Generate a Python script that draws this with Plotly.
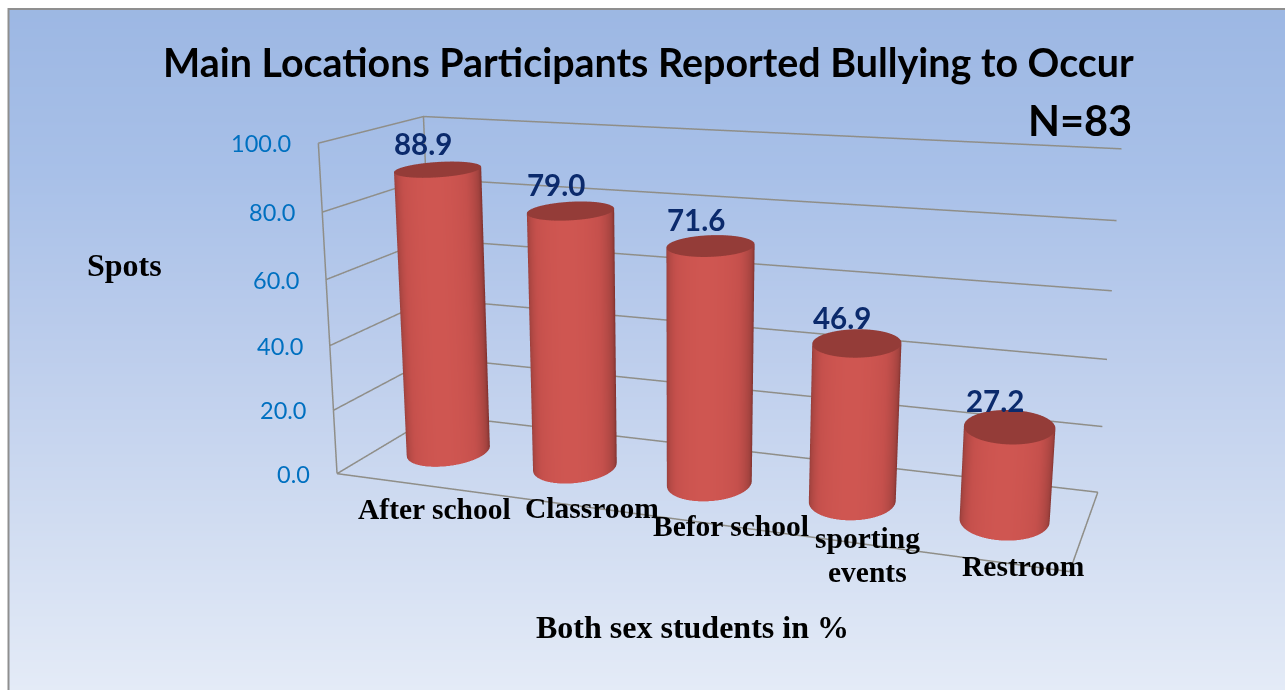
import numpy as np
import plotly.graph_objects as go

# Chart data
CATEGORIES = ["After school", "Classroom", "Befor school", "sporting<br>events", "Restroom"]
VALUES = [88.9, 79.0, 71.6, 46.9, 27.2]
TICK_VALUES = [0, 20, 40, 60, 80, 100]

# Page and scene geometry (px)
PAGE_W, PAGE_H = 1285, 690
SCENE_H = 1380
SCENE_SHIFT = 345

X_RANGE = [0, 5]
Y_RANGE = [0, 1]
Z_RANGE = [0, 100]
BAR_DEPTH_POS = 0.4927
BAR_RADIUS_X = 0.28
BAR_RADIUS_Y = 0.25

# Camera and box proportions
EYE = (1.5031, -4.4071, 1.1789)
CENTER = (0.4255, -1.6376, 0.3769)
UP = (-1.2147, 3.1515, 1.0)
ASPECT = (2.1619, 0.6270, 1.0)

# Styling
FONT_SANS = "Lato"
FONT_SERIF = "Liberation Serif"
WALL_COLOR = "#8f8e88"
TICK_COLOR = "#0070c0"
VALUE_COLOR = "#0b2a6c"
CAP_COLOR = "#943c38"
SIDE_SCALE = [[0, "#7b2f2c"], [0.3, "#a2433f"], [0.7, "#c5504c"], [1, "#cf5651"]]
BACK_STOPS = [[0, "#9cb7e3"], [0.25, "#a8c0e8"], [0.5, "#bccdec"], [0.75, "#d0dcf1"], [1, "#e4ebf7"]]

# Label placement in page pixels
CATEGORY_LABEL_X = [434, 592, 731, 867, 1023]
CATEGORY_LABEL_Y = [509, 508, 526, 538, 566]
LINE_STEP = 34
VALUE_SHIFT = (-15, 26)


def to_aspect(x, y):
    """Position of a data point inside the scene's normalised box."""
    return (ASPECT[0] * (x / X_RANGE[1] - 0.5), ASPECT[1] * (y / Y_RANGE[1] - 0.5))


fig = go.Figure()

# Backdrop gradient on a pixel-scaled cartesian layer
grad_rows = np.linspace(0, PAGE_H, 5)
fig.add_trace(go.Heatmap(x=[0, PAGE_W], y=grad_rows, z=[[t, t] for t in np.linspace(0, 1, 5)],
                         colorscale=BACK_STOPS, zmin=0, zmax=1, zsmooth="best",
                         showscale=False, hoverinfo="skip"))

# Cylinders: a shaded side wall and a flat darker cap for each category
theta = np.linspace(0, 2 * np.pi, 181)
flat = dict(ambient=1, diffuse=0, specular=0, fresnel=0, roughness=1)
for i, v in enumerate(VALUES):
    cx, cy = i + 0.5, BAR_DEPTH_POS
    ax_, ay_ = to_aspect(cx, cy)
    view = np.arctan2(EYE[1] - ay_, EYE[0] - ax_)
    shade = np.clip(np.cos(theta - view), 0, 1)
    xs = cx + BAR_RADIUS_X * np.cos(theta)
    ys = cy + BAR_RADIUS_Y * np.sin(theta)
    fig.add_trace(go.Surface(x=np.array([xs, xs]), y=np.array([ys, ys]),
                             z=np.array([0 * theta, 0 * theta + v]),
                             surfacecolor=np.array([shade, shade]), cmin=0, cmax=1,
                             colorscale=SIDE_SCALE, showscale=False, lighting=flat, hoverinfo="skip"))
    rho = np.array([0.0, 1.0])
    fig.add_trace(go.Surface(x=cx + BAR_RADIUS_X * np.outer(rho, np.cos(theta)),
                             y=cy + BAR_RADIUS_Y * np.outer(rho, np.sin(theta)),
                             z=np.full((2, theta.size), v),
                             surfacecolor=np.zeros((2, theta.size)), cmin=0, cmax=1,
                             colorscale=[[0, CAP_COLOR], [1, CAP_COLOR]], showscale=False,
                             lighting=flat, hoverinfo="skip"))

# Wall edges, floor outline and value gridlines on the left and back walls
x0, x1 = X_RANGE
y0, y1 = Y_RANGE
z0, z1 = Z_RANGE
gx = [x0, x0, None, x0, x0, None, x0, x1, x1, None]
gy = [y0, y0, None, y1, y1, None, y0, y0, y1, None]
gz = [z0, z1, None, z0, z1, None, z0, z0, z0, None]
for t in TICK_VALUES:
    gx += [x0, x0, x1, None]
    gy += [y0, y1, y1, None]
    gz += [t, t, t, None]
fig.add_trace(go.Scatter3d(x=gx, y=gy, z=gz, mode="lines", line=dict(color=WALL_COLOR, width=3),
                           hoverinfo="skip", showlegend=False))

anns = []
style_axis_title = dict(family=FONT_SERIF, size=32, color="black")
style_category = dict(family=FONT_SERIF, size=29.5, color="black")


def page_text(x, y, text, font, xanchor="center"):
    anns.append(dict(x=x, y=y, xref="x", yref="y", text=text, showarrow=False, font=font,
                     xanchor=xanchor, yanchor="middle"))


page_text(648, 61, "<b>Main Locations Participants Reported Bullying to Occur</b>",
          dict(family=FONT_SANS, size=39.4, color="black"))
page_text(1134, 120, "<b>N=83</b>", dict(family=FONT_SANS, size=41.5, color="black"), xanchor="right")
page_text(124, 265, "<b>Spots</b>", style_axis_title)
page_text(692, 627, "<b>Both sex students in %</b>", style_axis_title)
for label, lx, ly in zip(CATEGORIES, CATEGORY_LABEL_X, CATEGORY_LABEL_Y):
    for k, part in enumerate(label.split("<br>")):
        page_text(lx, ly + k * LINE_STEP, "<b>%s</b>" % part, style_category)

# Value labels and value-axis labels are anchored to the data; the scene's
# annotation layer stays put when the canvas slides, so it takes the same offset
scene_anns = []
for i, v in enumerate(VALUES):
    scene_anns.append(dict(x=i + 0.5, y=BAR_DEPTH_POS, z=v, text="<b>%.1f</b>" % v, showarrow=False,
                           xshift=VALUE_SHIFT[0], yshift=VALUE_SHIFT[1] + SCENE_SHIFT,
                           font=dict(family=FONT_SANS, size=29.5, color=VALUE_COLOR)))
for t in TICK_VALUES:
    scene_anns.append(dict(x=x0, y=y0, z=t, text="%.1f" % t, showarrow=False, xanchor="right",
                           xshift=-25, yshift=SCENE_SHIFT,
                           font=dict(family=FONT_SANS, size=23.5, color=TICK_COLOR)))

hidden = dict(showticklabels=False, showgrid=False, zeroline=False, showbackground=False,
              showspikes=False, showline=False, ticks="", title="")

fig.update_layout(
    width=PAGE_W, height=SCENE_H, margin=dict(l=0, r=0, t=0, b=0),
    paper_bgcolor="white", plot_bgcolor="white", showlegend=False,
    xaxis=dict(visible=False, range=[0, PAGE_W], domain=[0, 1], fixedrange=True),
    yaxis=dict(visible=False, range=[SCENE_H, 0], domain=[0, 1], fixedrange=True),
    shapes=[
        dict(type="rect", xref="x", yref="y", x0=0, x1=PAGE_W, y0=0, y1=9, fillcolor="white",
             line_width=0, layer="above"),
        dict(type="rect", xref="x", yref="y", x0=0, x1=8, y0=0, y1=PAGE_H, fillcolor="white",
             line_width=0, layer="above"),
        dict(type="rect", xref="x", yref="y", x0=8.5, x1=PAGE_W + 20, y0=9, y1=PAGE_H + 20,
             line=dict(color="#8f8f8f", width=2), layer="above"),
    ],
    annotations=anns,
    scene=dict(
        domain=dict(x=[0, 1], y=[0, 1]),
        bgcolor="rgba(0,0,0,0)",
        xaxis=dict(range=X_RANGE, **hidden),
        yaxis=dict(range=Y_RANGE, **hidden),
        zaxis=dict(range=Z_RANGE, tickvals=TICK_VALUES, **hidden),
        aspectmode="manual",
        aspectratio=dict(x=ASPECT[0], y=ASPECT[1], z=ASPECT[2]),
        camera=dict(eye=dict(x=EYE[0], y=EYE[1], z=EYE[2]),
                    center=dict(x=CENTER[0], y=CENTER[1], z=CENTER[2]),
                    up=dict(x=UP[0], y=UP[1], z=UP[2])),
        annotations=scene_anns,
    ),
)

# The scene is taller than the page so its lens stays long; slide it up to sit in the window
post = ("document.body.style.overflow='hidden';"
        "document.querySelectorAll('.gl-container').forEach(function(e){"
        "e.style.transform='translateY(-%dpx)';});" % SCENE_SHIFT)
fig.write_html("out.html", post_script=post)
